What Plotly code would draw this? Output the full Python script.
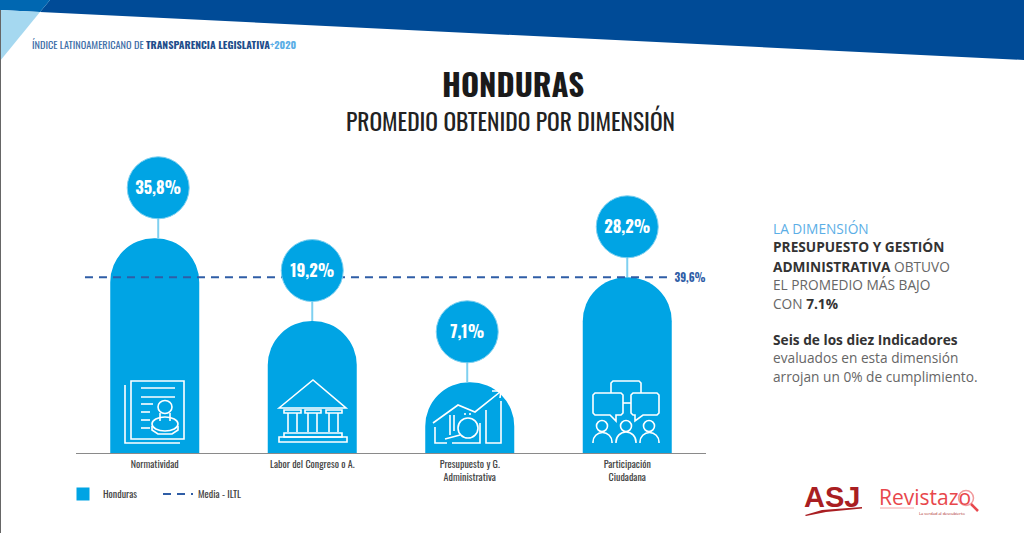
# Honduras - promedio obtenido por dimension (ILTL 2020)
import plotly.graph_objects as go

# Data
categories = ["Normatividad", "Labor del Congreso o A.", "Presupuesto y G.<br>Administrativa", "Participación<br>Ciudadana"]
value_labels = ["35,8%", "19,2%", "7,1%", "28,2%"]
# the infographic is not drawn to scale, so these are the heights as drawn, not the labels
drawn_heights = [35.8, 22.0, 11.8, 29.3]
media_label = "39,6%"
media_drawn = 29.3

W, H = 1024, 533
BLUE = "#00A4E4"
NARROW = "Oswald, Roboto Condensed, Open Sans, sans-serif"
OPEN = "Open Sans"
TEXT_NUDGE = 0.35  # Oswald sits a little high in its box

x_pos = list(range(len(categories)))


# pixel helpers for the decoration (paper coords = whole page, margins are 0)
def px(x):
    return x / W


def py(y):
    return 1 - y / H


def poly(points, close=False):
    s = "M" + " L".join(f"{px(x):.5f},{py(y):.5f}" for x, y in points)
    return s + (" Z" if close else "")


def ellipse(cx, cy, rx, ry):
    k = 0.5523
    pts = [(cx + rx, cy), (cx + rx, cy + k * ry), (cx + k * rx, cy + ry), (cx, cy + ry),
           (cx - k * rx, cy + ry), (cx - rx, cy + k * ry), (cx - rx, cy), (cx - rx, cy - k * ry),
           (cx - k * rx, cy - ry), (cx, cy - ry), (cx + k * rx, cy - ry), (cx + rx, cy - k * ry), (cx + rx, cy)]
    s = f"M{px(pts[0][0]):.5f},{py(pts[0][1]):.5f}"
    for i in range(1, 13, 3):
        s += " C" + " ".join(f"{px(a):.5f},{py(b):.5f}" for a, b in pts[i:i + 3])
    return s + " Z"


def arch(x0, x1, y_base, y_spring):
    # person's shoulders
    r = (x1 - x0) / 2
    k = 0.5523 * r
    c = [(x0, y_spring - k), (x0 + r - k, y_spring - r), (x0 + r, y_spring - r),
         (x0 + r + k, y_spring - r), (x1, y_spring - k), (x1, y_spring)]
    s = f"M{px(x0):.5f},{py(y_base):.5f} L{px(x0):.5f},{py(y_spring):.5f}"
    s += " C" + " ".join(f"{px(a):.5f},{py(b):.5f}" for a, b in c[:3])
    s += " C" + " ".join(f"{px(a):.5f},{py(b):.5f}" for a, b in c[3:])
    return s + f" L{px(x1):.5f},{py(y_base):.5f}"


def line_shape(path, color="white", width=1.6):
    return dict(type="path", path=path, xref="paper", yref="paper", layer="above",
                line=dict(color=color, width=width))


def fill_shape(path, color):
    return dict(type="path", path=path, xref="paper", yref="paper", layer="above",
                fillcolor=color, line=dict(width=0))


shapes = []

# header bands
shapes.append(fill_shape(poly([(50, 0), (1024, 0), (1024, 60), (40, 12)], True), "#004B97"))
shapes.append(fill_shape(poly([(0, 0), (50, 0), (40, 12), (0, 10)], True), "#0067B1"))
shapes.append(fill_shape(poly([(0, 10), (40, 12), (0, 61)], True), "#A5D8F0"))
shapes.append(fill_shape(poly([(0, 10), (1, 10), (1, 533), (0, 533)], True), "#666666"))

# icon 1: document with stamp
icon1 = [
    poly([(125, 385), (125, 443), (180, 443)]),
    poly([(131, 381), (184, 381), (184, 439), (131, 439)], True),
    poly([(141, 388), (175, 388)]), poly([(141, 397), (175, 397)]),
    poly([(141, 404), (153, 404)]), poly([(141, 412), (150, 412)]),
    poly([(141, 420), (150, 420)]), poly([(141, 428), (150, 428)]),
    ellipse(165, 407, 7, 6.5),
    poly([(160, 413), (160, 421)]), poly([(170, 413), (170, 421)]),
    ellipse(165, 424, 13, 7),
    poly([(152, 426), (152, 430), (158, 434), (172, 434), (178, 430), (178, 426)]),
]
# icon 2: congress building
icon2 = [
    poly([(279, 408), (313, 380), (346, 408)], True),
    poly([(284, 410), (301, 410), (301, 413), (284, 413)], True),
    poly([(305, 410), (321, 410), (321, 413), (305, 413)], True),
    poly([(326, 410), (342, 410), (342, 413), (326, 413)], True),
    poly([(288, 413), (288, 432)]), poly([(297, 413), (297, 432)]),
    poly([(308, 413), (308, 432)]), poly([(317, 413), (317, 432)]),
    poly([(329, 413), (329, 432)]), poly([(338, 413), (338, 432)]),
    poly([(284, 433), (342, 433), (342, 437), (284, 437)], True),
    poly([(279, 437), (347, 437), (347, 442), (279, 442)], True),
]
# icon 3: budget chart with magnifier
icon3 = [
    poly([(433, 423), (458, 405), (475, 412), (500, 392)]),
    poly([(492, 391), (501, 391), (500, 398)]),
    poly([(435, 427), (435, 443), (447, 443)]),
    poly([(450, 415), (450, 435)]), poly([(454, 415), (454, 431)]),
    ellipse(468, 428, 10, 10),
    poly([(460, 435), (445, 439)]),
    poly([(486, 410), (486, 443), (501, 443), (501, 401)]),
    poly([(480, 423), (480, 443), (452, 443)]),
    poly([(465, 413), (465, 415)]), poly([(470, 413), (470, 415)]),
]
# icon 4: people talking
icon4 = [
    poly([(611, 393), (611, 383), (613, 381), (639, 381), (641, 383), (641, 393)]),
    poly([(595, 393), (621, 393), (623, 395), (623, 413), (621, 415), (616, 415), (616, 421), (610, 415), (595, 415), (593, 413), (593, 395)], True),
    poly([(633, 393), (657, 393), (659, 395), (659, 413), (657, 415), (643, 415), (635, 421), (635, 415), (633, 415), (631, 413), (631, 395)], True),
    poly([(623, 403), (631, 403)]),
    ellipse(602, 426, 5.5, 5.5), ellipse(626, 426, 5.5, 5.5), ellipse(649, 426, 5.5, 5.5),
    arch(593, 612, 443, 442), arch(616, 636, 443, 442), arch(640, 659, 443, 442),
]
for path in icon1 + icon2 + icon3 + icon4:
    shapes.append(line_shape(path))

# logos, swoosh and magnifier
shapes.append(fill_shape(poly([(805, 515), (822, 510), (862, 507), (862, 508.5), (826, 512), (806, 516)], True), "#A91E22"))
shapes.append(line_shape(ellipse(966, 498, 7.5, 7.5), "#F19A9C", 1.5))
shapes.append(line_shape(poly([(971, 504), (978, 511)]), "#E8474C", 2.5))
shapes.append(line_shape(poly([(880, 508), (914, 508)]), "#F4A6A8", 1))

fig = go.Figure()

# legend swatch comes from this empty trace, the real bars would give a rounded one
fig.add_trace(go.Scatter(x=[None], y=[None], mode="markers", name="Honduras",
                         marker=dict(symbol="square", size=13, color=BLUE)))
fig.add_trace(go.Bar(x=x_pos, y=drawn_heights, name="Honduras", width=89 / 157.5, showlegend=False,
                     marker=dict(color=BLUE, line=dict(width=0))))

# dashed reference line goes over the bars, under the bubbles
fig.add_trace(go.Scatter(x=[-0.443, 3.278], y=[media_drawn, media_drawn], mode="lines", name="Media - ILTL",
                         line=dict(color="#2F5DA6", width=2, dash="8px,6px"), hoverinfo="skip"))
fig.add_trace(go.Scatter(x=[3.30], y=[media_drawn - TEXT_NUDGE], mode="text", text=[f"<b>{media_label}</b>"],
                         textposition="middle right", showlegend=False,
                         textfont=dict(family=NARROW, size=11, color="#2F5DA6"), hoverinfo="skip"))

# stems and bubbles sit a fixed distance over each bar
BUBBLE_GAP = 8.4
bubble_x = [x_pos[0] + 0.022, x_pos[1], x_pos[2] - 0.016, x_pos[3]]
bubble_y = [h + BUBBLE_GAP for h in drawn_heights]
stem_x, stem_y = [], []
for bx, h, by in zip(bubble_x, drawn_heights, bubble_y):
    stem_x += [bx, bx, None]
    stem_y += [h, by, None]
fig.add_trace(go.Scatter(x=stem_x, y=stem_y, mode="lines", showlegend=False, hoverinfo="skip",
                         line=dict(color="#7FD0F0", width=2)))
fig.add_trace(go.Scatter(x=bubble_x, y=bubble_y, mode="markers", showlegend=False, hoverinfo="skip",
                         marker=dict(size=62, color=BLUE, line=dict(width=1, color="#7FD0F0"))))
fig.add_trace(go.Scatter(x=bubble_x, y=[b - TEXT_NUDGE for b in bubble_y], mode="text", showlegend=False, hoverinfo="skip",
                         text=[f"<b>{t}</b>" for t in value_labels], textposition="middle center",
                         textfont=dict(family=NARROW, size=16.5, color="white")))


def note(x, y, text, size, color, family=NARROW, anchor="left"):
    fig.add_annotation(x=px(x), y=py(y), xref="paper", yref="paper", text=text, showarrow=False,
                       xanchor=anchor, yanchor="middle", font=dict(family=family, size=size, color=color))


note(30, 45, '<span style="color:#3F6FA8">ÍNDICE LATINOAMERICANO DE </span>'
             '<span style="color:#1F4E8C"><b>TRANSPARENCIA LEGISLATIVA</b></span>'
             '<span style="color:#5BAEE6">+<b>2020</b></span>', 10.3, "#3F6FA8")
note(513, 83, "<b>HONDURAS</b>", 31, "#1A1A1A", anchor="center")
note(510.5, 120, "PROMEDIO OBTENIDO POR DIMENSIÓN", 23.5, "#222222", anchor="center")

DARK, GREY = "#333333", "#666666"
note(771, 228, "LA DIMENSIÓN", 13.7, "#5BAEE6", OPEN)
note(771, 247, "<b>PRESUPUESTO Y GESTIÓN</b>", 13.7, DARK, OPEN)
note(771, 266, f'<b>ADMINISTRATIVA</b> <span style="color:{GREY}">OBTUVO</span>', 13.7, DARK, OPEN)
note(771, 284, "EL PROMEDIO MÁS BAJO", 13.7, GREY, OPEN)
note(771, 303, f'<span style="color:{GREY}">CON </span><b>7.1%</b>', 13.7, DARK, OPEN)
note(771, 339, "<b>Seis de los diez Indicadores</b>", 13.7, DARK, OPEN)
note(771, 357, "evaluados en esta dimensión", 13.7, GREY, OPEN)
note(771, 376, "arrojan un 0% de cumplimiento.", 13.7, GREY, OPEN)

note(802, 497, "<b>ASJ</b>", 29, "#A91E22", "Liberation Sans")
note(877, 497, "Revistazo", 21, "#E8474C", OPEN)
note(917, 513, "La verdad al descubierto", 4, "#A91E22", OPEN)

fig.update_layout(
    width=W, height=H, margin=dict(l=0, r=0, t=0, b=0), autosize=False,
    paper_bgcolor="white", plot_bgcolor="white",
    barcornerradius="50%", shapes=shapes,
    xaxis=dict(domain=[76 / W, 706 / W], range=[-0.5, 3.5], tickmode="array", tickvals=x_pos, ticktext=categories,
               showgrid=False, zeroline=False, showline=True, linecolor="#8A8A8A", linewidth=1, ticks="",
               ticklabelstandoff=2, tickfont=dict(family=NARROW, size=10, color="#444444")),
    yaxis=dict(domain=[(H - 453) / H, 1], range=[0, 75.5], visible=False),
    legend=dict(orientation="h", x=63 / W, xanchor="left", y=py(494), yanchor="middle", entrywidth=50,
                font=dict(family=NARROW, size=10, color="#444444"), bgcolor="rgba(0,0,0,0)"),
    showlegend=True,
)

fig.write_html("out.html", config={"displayModeBar": False}, post_script="document.body.style.margin='0';")
